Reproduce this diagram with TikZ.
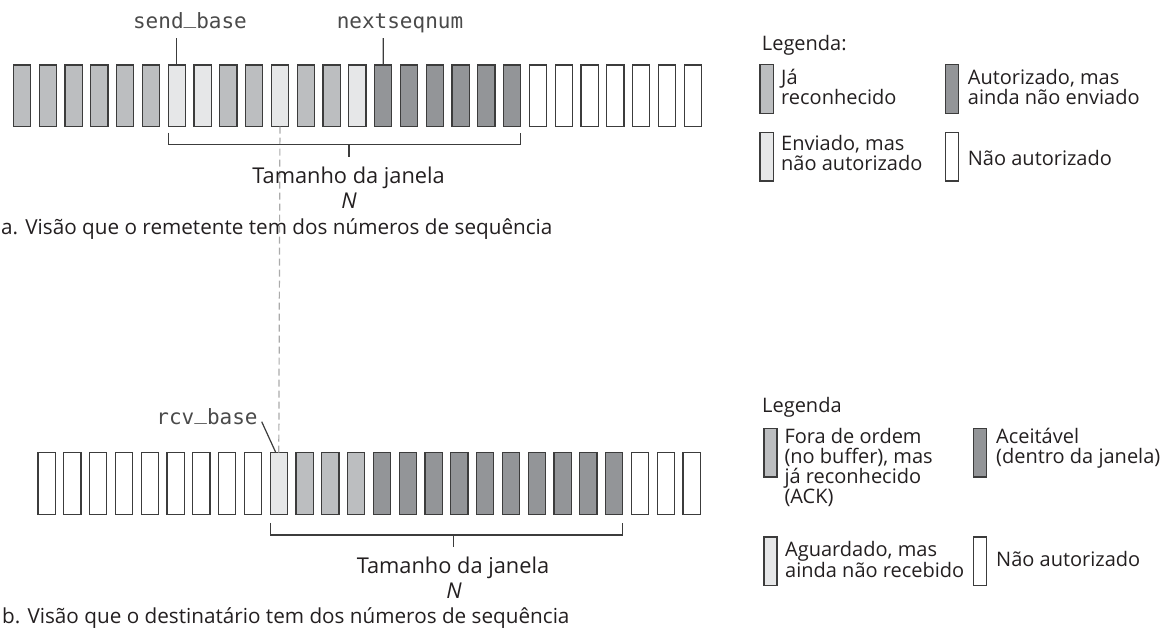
\documentclass[tikz,border=0pt]{standalone}
\usepackage{fontspec}
\setmainfont{Open Sans}
\newfontfamily\monofont{DejaVu Sans Mono}
\usetikzlibrary{calc}
\definecolor{cAck}{HTML}{BCBEC0}
\definecolor{cLight}{HTML}{E6E7E8}
\definecolor{cDark}{HTML}{939598}
\definecolor{cLine}{HTML}{3C3C3C}
\definecolor{cMono}{HTML}{4A4A4A}
\definecolor{cTxt}{HTML}{231F20}
\definecolor{cDash}{HTML}{ABABAB}
\newcommand{\usc}{\raisebox{0.2em}{\string_}}
\begin{document}
\begin{tikzpicture}[x=1pt,y=-1pt,
  cell/.style={draw=cLine, line width=1.3pt, minimum width=17.2pt, minimum height=61.7pt, inner sep=0pt, outer sep=0pt},
  lbox/.style={draw=cLine, line width=1.3pt, minimum width=13.2pt, minimum height=48.7pt, inner sep=0pt, outer sep=0pt},
  mono/.style={font=\monofont\fontsize{21}{24}\selectfont, text=cMono, inner sep=0pt, anchor=base},
  lab/.style={font=\fontsize{21.8}{24}\selectfont, text=cTxt, inner sep=0pt, anchor=base},
  leg/.style={font=\fontsize{20}{20}\selectfont, text=cTxt, inner sep=0pt, anchor=base west},
  captxt/.style={font=\fontsize{20.7}{24}\selectfont, text=cTxt, inner sep=0pt, anchor=base west},
  conn/.style={draw=cLine, line width=1.2pt},
  dashline/.style={draw=cDash, line width=1.2pt, dash pattern=on 7pt off 4pt}]
\path[use as bounding box] (0,0) rectangle (1168,635);

% sender row
\foreach \c [count=\i from 0] in {cAck,cAck,cAck,cAck,cAck,cAck,cLight,cLight,cAck,cAck,cLight,cAck,cAck,cLight,cDark,cDark,cDark,cDark,cDark,cDark,white,white,white,white,white,white,white}
  \node[cell, fill=\c] (t\i) at ({21.95+25.8*\i}, 95.8) {};

% receiver row
\foreach \c [count=\i from 0] in {white,white,white,white,white,white,white,white,white,cLight,cAck,cAck,cAck,cDark,cDark,cDark,cDark,cDark,cDark,cDark,cDark,cDark,cDark,white,white,white}
  \node[cell, fill=\c] (b\i) at ({46.6+25.8*\i}, 483.4) {};

% pointer labels
\node[mono] (sb) at (190,28) {send\usc base};
\node[mono] (ns) at (400,28) {nextseqnum};
\node[mono] (rb) at (207,424) {rcv\usc base};
\coordinate (sbe) at (176.75,38);
\coordinate (nse) at (383.15,38);
\coordinate (rbe) at (261.7,421.7);
\draw[conn] (sbe) -- (t6.north);
\draw[conn] (nse) -- (t14.north);
\draw[conn] (rbe) -- ($(b9.north)+(-3,0)$);

% dashed alignment line
\draw[dashline] (t10.south) -- (b9.north);

% top bracket
\draw[conn] ($(t6.south west)+(0,6)$) -- ($(t6.south west)+(0,18)$) -| ($(t19.south east)+(0,6)$);
\coordinate (tm) at (349,144.65);
\draw[conn] (tm) -- ++(0,12);
\node[lab] (tw1) at (348.6,183.3) {Tamanho da janela};
\node[lab] (tn1) at (349,208.5) {\textit{N}};
\node[captxt] (capa) at (1,234) {a. Visão que o remetente tem dos números de sequência};

% bottom bracket
\draw[conn] ($(b9.south west)+(0,8.5)$) -- ($(b9.south west)+(0,20.75)$) -| ($(b22.south east)+(0,8.5)$);
\coordinate (bm) at (453.8,535);
\draw[conn] (bm) -- ++(0,12);
\node[lab] (tw2) at (453,573) {Tamanho da janela};
\node[lab] (tn2) at (454,598) {\textit{N}};
\node[captxt] (capb) at (2,623) {b. Visão que o destinatário tem dos números de sequência};

% top legend
\node[leg] (lh1) at (761.7,50) {Legenda:};
\node[lbox, fill=cAck] (la1) at (766.7,89) {};
\node[leg] (la1t1) at (781,84) {Já};
\node[leg] (la1t2) at (781,104) {reconhecido};
\node[lbox, fill=cDark] (la2) at (952.2,89) {};
\node[leg] (la2t1) at (967.7,84) {Autorizado, mas};
\node[leg] (la2t2) at (967.7,104) {ainda não enviado};
\node[lbox, fill=cLight] (la3) at (766.7,156.7) {};
\node[leg] (la3t1) at (781,150) {Enviado, mas};
\node[leg] (la3t2) at (781,170) {não autorizado};
\node[lbox, fill=white] (la4) at (952.2,156.7) {};
\node[leg] (la4t1) at (967.7,165) {Não autorizado};

% bottom legend
\node[leg] (lh2) at (762,412) {Legenda};
\node[lbox, fill=cAck] (lb1) at (770.5,452.5) {};
\node[leg] (lb1t1) at (784.3,443) {Fora de ordem};
\node[leg] (lb1t2) at (784.3,463) {(no buffer), mas};
\node[leg] (lb1t3) at (784.3,483) {já reconhecido};
\node[leg] (lb1t4) at (784.3,503) {(ACK)};
\node[lbox, fill=cDark] (lb2) at (980,452.5) {};
\node[leg] (lb2t1) at (996,443) {Aceitável};
\node[leg] (lb2t2) at (996,463) {(dentro da janela)};
\node[lbox, fill=cLight] (lb3) at (770.5,561.4) {};
\node[leg] (lb3t1) at (785,556) {Aguardado, mas};
\node[leg] (lb3t2) at (785,577) {ainda não recebido};
\node[lbox, fill=white] (lb4) at (980,561.4) {};
\node[leg] (lb4t1) at (996,566) {Não autorizado};
\end{tikzpicture}
\end{document}
